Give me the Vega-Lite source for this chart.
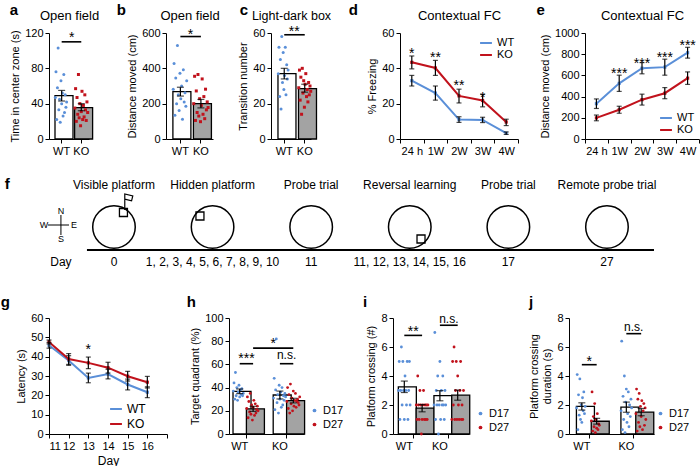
{
  "$schema": "https://vega.github.io/schema/vega-lite/v6.json",
  "background": "white",
  "padding": {"left": 0, "right": 2, "top": 3, "bottom": 2},
  "config": {
    "font": "Liberation Sans",
    "view": {"stroke": null},
    "axis": {"domainColor": "#000", "tickColor": "#000", "labelColor": "#000", "titleColor": "#000", "labelFontSize": 11, "titleFontSize": 11, "titleFontWeight": "normal", "grid": false, "tickSize": 4, "labelPadding": 2, "titlePadding": 4, "domainWidth": 1, "tickWidth": 1, "labelFont": "Liberation Sans", "titleFont": "Liberation Sans"},
    "title": {"fontSize": 15, "fontWeight": "bold", "anchor": "start", "frame": "bounds", "color": "#000", "baseline": "alphabetic", "font": "Liberation Sans"},
    "legend": {"labelFontSize": 12, "labelColor": "#000", "labelFont": "Liberation Sans"},
    "text": {"color": "#000", "font": "Liberation Sans"}
  },
  "resolve": {"scale": {"color": "independent", "shape": "independent", "x": "independent", "y": "independent", "xOffset": "independent"}, "legend": {"color": "independent", "shape": "independent"}},
  "datasets": {
    "a_bar": [{"g": "WT", "m": 49, "lo": 43, "hi": 55}, {"g": "KO", "m": 35.5, "lo": 32, "hi": 40}],
    "a_pts": [
      {"g": "WT", "v": 47}, {"g": "WT", "v": 76}, {"g": "WT", "v": 22}, {"g": "WT", "v": 58}, {"g": "WT", "v": 103}, {"g": "WT", "v": 33}, {"g": "WT", "v": 45}, {"g": "WT", "v": 19}, {"g": "WT", "v": 66}, {"g": "WT", "v": 40}, {"g": "WT", "v": 52}, {"g": "WT", "v": 26}, {"g": "WT", "v": 73}, {"g": "WT", "v": 30}, {"g": "WT", "v": 50}, {"g": "WT", "v": 36}, {"g": "WT", "v": 42},
      {"g": "KO", "v": 35}, {"g": "KO", "v": 57}, {"g": "KO", "v": 20}, {"g": "KO", "v": 47}, {"g": "KO", "v": 28}, {"g": "KO", "v": 73}, {"g": "KO", "v": 24}, {"g": "KO", "v": 40}, {"g": "KO", "v": 15}, {"g": "KO", "v": 31}, {"g": "KO", "v": 54}, {"g": "KO", "v": 22}, {"g": "KO", "v": 38}, {"g": "KO", "v": 25}, {"g": "KO", "v": 50}, {"g": "KO", "v": 33}, {"g": "KO", "v": 21}, {"g": "KO", "v": 42}, {"g": "KO", "v": 30}
    ],
    "b_bar": [{"g": "WT", "m": 268, "lo": 243, "hi": 293}, {"g": "KO", "m": 200, "lo": 176, "hi": 224}],
    "b_pts": [
      {"g": "WT", "v": 282}, {"g": "WT", "v": 427}, {"g": "WT", "v": 134}, {"g": "WT", "v": 345}, {"g": "WT", "v": 200}, {"g": "WT", "v": 529}, {"g": "WT", "v": 250}, {"g": "WT", "v": 162}, {"g": "WT", "v": 372}, {"g": "WT", "v": 228}, {"g": "WT", "v": 300}, {"g": "WT", "v": 112}, {"g": "WT", "v": 392}, {"g": "WT", "v": 210}, {"g": "WT", "v": 262}, {"g": "WT", "v": 185}, {"g": "WT", "v": 330},
      {"g": "KO", "v": 200}, {"g": "KO", "v": 355}, {"g": "KO", "v": 105}, {"g": "KO", "v": 272}, {"g": "KO", "v": 150}, {"g": "KO", "v": 365}, {"g": "KO", "v": 130}, {"g": "KO", "v": 228}, {"g": "KO", "v": 98}, {"g": "KO", "v": 190}, {"g": "KO", "v": 340}, {"g": "KO", "v": 140}, {"g": "KO", "v": 240}, {"g": "KO", "v": 115}, {"g": "KO", "v": 282}, {"g": "KO", "v": 165}, {"g": "KO", "v": 210}, {"g": "KO", "v": 178}
    ],
    "c_bar": [{"g": "WT", "m": 37, "lo": 34, "hi": 40}, {"g": "KO", "m": 28.5, "lo": 26.5, "hi": 31}],
    "c_pts": [
      {"g": "WT", "v": 37}, {"g": "WT", "v": 52}, {"g": "WT", "v": 24}, {"g": "WT", "v": 45}, {"g": "WT", "v": 17}, {"g": "WT", "v": 58}, {"g": "WT", "v": 32}, {"g": "WT", "v": 49}, {"g": "WT", "v": 28}, {"g": "WT", "v": 36}, {"g": "WT", "v": 52}, {"g": "WT", "v": 25}, {"g": "WT", "v": 42}, {"g": "WT", "v": 34}, {"g": "WT", "v": 39},
      {"g": "KO", "v": 29}, {"g": "KO", "v": 39}, {"g": "KO", "v": 22}, {"g": "KO", "v": 35}, {"g": "KO", "v": 14}, {"g": "KO", "v": 40}, {"g": "KO", "v": 26}, {"g": "KO", "v": 33}, {"g": "KO", "v": 18}, {"g": "KO", "v": 31}, {"g": "KO", "v": 37}, {"g": "KO", "v": 24}, {"g": "KO", "v": 28}, {"g": "KO", "v": 21}, {"g": "KO", "v": 32}, {"g": "KO", "v": 25}, {"g": "KO", "v": 30}, {"g": "KO", "v": 27}
    ],
    "d": [
      {"t": "24 h", "g": "WT", "m": 33, "lo": 30, "hi": 36}, {"t": "1W", "g": "WT", "m": 26, "lo": 22, "hi": 30}, {"t": "2W", "g": "WT", "m": 11, "lo": 9.4, "hi": 12.6}, {"t": "3W", "g": "WT", "m": 10.8, "lo": 9.3, "hi": 12.3}, {"t": "4W", "g": "WT", "m": 3.3, "lo": 2.6, "hi": 4},
      {"t": "24 h", "g": "KO", "m": 43.4, "lo": 39.7, "hi": 47}, {"t": "1W", "g": "KO", "m": 40.2, "lo": 36, "hi": 44.5}, {"t": "2W", "g": "KO", "m": 24.4, "lo": 20.4, "hi": 28.2}, {"t": "3W", "g": "KO", "m": 21.8, "lo": 18.2, "hi": 25.3}, {"t": "4W", "g": "KO", "m": 9.6, "lo": 7.6, "hi": 11.2}
    ],
    "e": [
      {"t": "24 h", "g": "WT", "m": 333, "lo": 288, "hi": 378}, {"t": "1W", "g": "WT", "m": 525, "lo": 449, "hi": 602}, {"t": "2W", "g": "WT", "m": 668, "lo": 615, "hi": 721}, {"t": "3W", "g": "WT", "m": 678, "lo": 602, "hi": 753}, {"t": "4W", "g": "WT", "m": 814, "lo": 763, "hi": 865},
      {"t": "24 h", "g": "KO", "m": 199, "lo": 172, "hi": 226}, {"t": "1W", "g": "KO", "m": 276, "lo": 243, "hi": 309}, {"t": "2W", "g": "KO", "m": 371, "lo": 320, "hi": 423}, {"t": "3W", "g": "KO", "m": 432, "lo": 380, "hi": 485}, {"t": "4W", "g": "KO", "m": 574, "lo": 515, "hi": 633}
    ],
    "gdat": [
      {"day": 11, "g": "WT", "m": 45.9, "lo": 44.4, "hi": 47.4}, {"day": 12, "g": "WT", "m": 38, "lo": 35.5, "hi": 40.5}, {"day": 13, "g": "WT", "m": 29, "lo": 26.5, "hi": 31.5}, {"day": 14, "g": "WT", "m": 31, "lo": 28.5, "hi": 33.5}, {"day": 15, "g": "WT", "m": 25.6, "lo": 22.8, "hi": 28.4}, {"day": 16, "g": "WT", "m": 21.6, "lo": 18.8, "hi": 24.4},
      {"day": 11, "g": "KO", "m": 47.6, "lo": 46.6, "hi": 48.6}, {"day": 12, "g": "KO", "m": 38.8, "lo": 36, "hi": 41.6}, {"day": 13, "g": "KO", "m": 36.8, "lo": 33.8, "hi": 39.8}, {"day": 14, "g": "KO", "m": 34.3, "lo": 31.5, "hi": 37.1}, {"day": 15, "g": "KO", "m": 29.9, "lo": 27.4, "hi": 32.4}, {"day": 16, "g": "KO", "m": 26.8, "lo": 23.8, "hi": 29.8}
    ],
    "h_bar": [
      {"c": "WT D17", "d": "D17", "m": 36.8, "lo": 34.8, "hi": 38.8}, {"c": "WT D27", "d": "D27", "m": 21.7, "lo": 19.5, "hi": 23.9}, {"c": "KO D17", "d": "D17", "m": 33.6, "lo": 30.2, "hi": 37}, {"c": "KO D27", "d": "D27", "m": 28.8, "lo": 26.8, "hi": 30.8}
    ],
    "h_pts": [
      {"c": "WT D17", "d": "D17", "v": 37}, {"c": "WT D17", "d": "D17", "v": 44}, {"c": "WT D17", "d": "D17", "v": 30}, {"c": "WT D17", "d": "D17", "v": 53}, {"c": "WT D17", "d": "D17", "v": 33}, {"c": "WT D17", "d": "D17", "v": 40}, {"c": "WT D17", "d": "D17", "v": 29}, {"c": "WT D17", "d": "D17", "v": 36}, {"c": "WT D17", "d": "D17", "v": 42}, {"c": "WT D17", "d": "D17", "v": 32}, {"c": "WT D17", "d": "D17", "v": 38}, {"c": "WT D17", "d": "D17", "v": 34}, {"c": "WT D17", "d": "D17", "v": 39}, {"c": "WT D17", "d": "D17", "v": 33}, {"c": "WT D17", "d": "D17", "v": 35},
      {"c": "WT D27", "d": "D27", "v": 22}, {"c": "WT D27", "d": "D27", "v": 32}, {"c": "WT D27", "d": "D27", "v": 14}, {"c": "WT D27", "d": "D27", "v": 28}, {"c": "WT D27", "d": "D27", "v": 19}, {"c": "WT D27", "d": "D27", "v": 35}, {"c": "WT D27", "d": "D27", "v": 17}, {"c": "WT D27", "d": "D27", "v": 25}, {"c": "WT D27", "d": "D27", "v": 12}, {"c": "WT D27", "d": "D27", "v": 23}, {"c": "WT D27", "d": "D27", "v": 29}, {"c": "WT D27", "d": "D27", "v": 16}, {"c": "WT D27", "d": "D27", "v": 26}, {"c": "WT D27", "d": "D27", "v": 18}, {"c": "WT D27", "d": "D27", "v": 21}, {"c": "WT D27", "d": "D27", "v": 24}, {"c": "WT D27", "d": "D27", "v": 20},
      {"c": "KO D17", "d": "D17", "v": 31}, {"c": "KO D17", "d": "D17", "v": 48}, {"c": "KO D17", "d": "D17", "v": 21}, {"c": "KO D17", "d": "D17", "v": 38}, {"c": "KO D17", "d": "D17", "v": 82}, {"c": "KO D17", "d": "D17", "v": 27}, {"c": "KO D17", "d": "D17", "v": 34}, {"c": "KO D17", "d": "D17", "v": 18}, {"c": "KO D17", "d": "D17", "v": 42}, {"c": "KO D17", "d": "D17", "v": 30}, {"c": "KO D17", "d": "D17", "v": 36}, {"c": "KO D17", "d": "D17", "v": 23}, {"c": "KO D17", "d": "D17", "v": 40}, {"c": "KO D17", "d": "D17", "v": 25}, {"c": "KO D17", "d": "D17", "v": 33}, {"c": "KO D17", "d": "D17", "v": 29}, {"c": "KO D17", "d": "D17", "v": 35}, {"c": "KO D17", "d": "D17", "v": 32},
      {"c": "KO D27", "d": "D27", "v": 28}, {"c": "KO D27", "d": "D27", "v": 40}, {"c": "KO D27", "d": "D27", "v": 22}, {"c": "KO D27", "d": "D27", "v": 34}, {"c": "KO D27", "d": "D27", "v": 18}, {"c": "KO D27", "d": "D27", "v": 43}, {"c": "KO D27", "d": "D27", "v": 26}, {"c": "KO D27", "d": "D27", "v": 31}, {"c": "KO D27", "d": "D27", "v": 20}, {"c": "KO D27", "d": "D27", "v": 37}, {"c": "KO D27", "d": "D27", "v": 24}, {"c": "KO D27", "d": "D27", "v": 29}, {"c": "KO D27", "d": "D27", "v": 35}, {"c": "KO D27", "d": "D27", "v": 23}, {"c": "KO D27", "d": "D27", "v": 28}, {"c": "KO D27", "d": "D27", "v": 30}, {"c": "KO D27", "d": "D27", "v": 27}, {"c": "KO D27", "d": "D27", "v": 25}, {"c": "KO D27", "d": "D27", "v": 32}
    ],
    "i_bar": [
      {"c": "WT D17", "d": "D17", "m": 3.25, "lo": 2.86, "hi": 3.65}, {"c": "WT D27", "d": "D27", "m": 1.78, "lo": 1.53, "hi": 2.03}, {"c": "KO D17", "d": "D17", "m": 2.64, "lo": 2.29, "hi": 2.99}, {"c": "KO D27", "d": "D27", "m": 2.68, "lo": 2.33, "hi": 3.03}
    ],
    "i_pts": [
      {"c": "WT D17", "d": "D17", "v": 3}, {"c": "WT D17", "d": "D17", "v": 5}, {"c": "WT D17", "d": "D17", "v": 1}, {"c": "WT D17", "d": "D17", "v": 3}, {"c": "WT D17", "d": "D17", "v": 6}, {"c": "WT D17", "d": "D17", "v": 2}, {"c": "WT D17", "d": "D17", "v": 5}, {"c": "WT D17", "d": "D17", "v": 3}, {"c": "WT D17", "d": "D17", "v": 1}, {"c": "WT D17", "d": "D17", "v": 4}, {"c": "WT D17", "d": "D17", "v": 3}, {"c": "WT D17", "d": "D17", "v": 2}, {"c": "WT D17", "d": "D17", "v": 5}, {"c": "WT D17", "d": "D17", "v": 1}, {"c": "WT D17", "d": "D17", "v": 3}, {"c": "WT D17", "d": "D17", "v": 5}, {"c": "WT D17", "d": "D17", "v": 2},
      {"c": "WT D27", "d": "D27", "v": 2}, {"c": "WT D27", "d": "D27", "v": 1}, {"c": "WT D27", "d": "D27", "v": 4}, {"c": "WT D27", "d": "D27", "v": 2}, {"c": "WT D27", "d": "D27", "v": 1}, {"c": "WT D27", "d": "D27", "v": 3}, {"c": "WT D27", "d": "D27", "v": 2}, {"c": "WT D27", "d": "D27", "v": 0}, {"c": "WT D27", "d": "D27", "v": 1}, {"c": "WT D27", "d": "D27", "v": 2}, {"c": "WT D27", "d": "D27", "v": 3}, {"c": "WT D27", "d": "D27", "v": 1}, {"c": "WT D27", "d": "D27", "v": 2}, {"c": "WT D27", "d": "D27", "v": 1}, {"c": "WT D27", "d": "D27", "v": 2}, {"c": "WT D27", "d": "D27", "v": 1}, {"c": "WT D27", "d": "D27", "v": 2},
      {"c": "KO D17", "d": "D17", "v": 2}, {"c": "KO D17", "d": "D17", "v": 7}, {"c": "KO D17", "d": "D17", "v": 1}, {"c": "KO D17", "d": "D17", "v": 3}, {"c": "KO D17", "d": "D17", "v": 2}, {"c": "KO D17", "d": "D17", "v": 4}, {"c": "KO D17", "d": "D17", "v": 0}, {"c": "KO D17", "d": "D17", "v": 2}, {"c": "KO D17", "d": "D17", "v": 5}, {"c": "KO D17", "d": "D17", "v": 1}, {"c": "KO D17", "d": "D17", "v": 3}, {"c": "KO D17", "d": "D17", "v": 2}, {"c": "KO D17", "d": "D17", "v": 4}, {"c": "KO D17", "d": "D17", "v": 2}, {"c": "KO D17", "d": "D17", "v": 1}, {"c": "KO D17", "d": "D17", "v": 3}, {"c": "KO D17", "d": "D17", "v": 2},
      {"c": "KO D27", "d": "D27", "v": 1}, {"c": "KO D27", "d": "D27", "v": 5}, {"c": "KO D27", "d": "D27", "v": 2}, {"c": "KO D27", "d": "D27", "v": 6}, {"c": "KO D27", "d": "D27", "v": 1}, {"c": "KO D27", "d": "D27", "v": 3}, {"c": "KO D27", "d": "D27", "v": 5}, {"c": "KO D27", "d": "D27", "v": 1}, {"c": "KO D27", "d": "D27", "v": 4}, {"c": "KO D27", "d": "D27", "v": 2}, {"c": "KO D27", "d": "D27", "v": 1}, {"c": "KO D27", "d": "D27", "v": 3}, {"c": "KO D27", "d": "D27", "v": 5}, {"c": "KO D27", "d": "D27", "v": 1}, {"c": "KO D27", "d": "D27", "v": 2}, {"c": "KO D27", "d": "D27", "v": 1}, {"c": "KO D27", "d": "D27", "v": 3}
    ],
    "j_bar": [
      {"c": "WT D17", "d": "D17", "m": 1.9, "lo": 1.65, "hi": 2.15}, {"c": "WT D27", "d": "D27", "m": 0.88, "lo": 0.68, "hi": 1.08}, {"c": "KO D17", "d": "D17", "m": 1.85, "lo": 1.5, "hi": 2.2}, {"c": "KO D27", "d": "D27", "m": 1.51, "lo": 1.26, "hi": 1.76}
    ],
    "j_pts": [
      {"c": "WT D17", "d": "D17", "v": 1.8}, {"c": "WT D17", "d": "D17", "v": 4.1}, {"c": "WT D17", "d": "D17", "v": 0.3}, {"c": "WT D17", "d": "D17", "v": 2.7}, {"c": "WT D17", "d": "D17", "v": 1.3}, {"c": "WT D17", "d": "D17", "v": 3.8}, {"c": "WT D17", "d": "D17", "v": 1.0}, {"c": "WT D17", "d": "D17", "v": 2.0}, {"c": "WT D17", "d": "D17", "v": 0.8}, {"c": "WT D17", "d": "D17", "v": 2.5}, {"c": "WT D17", "d": "D17", "v": 1.6}, {"c": "WT D17", "d": "D17", "v": 2.9}, {"c": "WT D17", "d": "D17", "v": 1.4}, {"c": "WT D17", "d": "D17", "v": 1.9},
      {"c": "WT D27", "d": "D27", "v": 0.9}, {"c": "WT D27", "d": "D27", "v": 2.9}, {"c": "WT D27", "d": "D27", "v": 0.2}, {"c": "WT D27", "d": "D27", "v": 1.2}, {"c": "WT D27", "d": "D27", "v": 0.5}, {"c": "WT D27", "d": "D27", "v": 2.1}, {"c": "WT D27", "d": "D27", "v": 0.1}, {"c": "WT D27", "d": "D27", "v": 1.0}, {"c": "WT D27", "d": "D27", "v": 0.4}, {"c": "WT D27", "d": "D27", "v": 1.4}, {"c": "WT D27", "d": "D27", "v": 0.3}, {"c": "WT D27", "d": "D27", "v": 0.7}, {"c": "WT D27", "d": "D27", "v": 0.6},
      {"c": "KO D17", "d": "D17", "v": 1.6}, {"c": "KO D17", "d": "D17", "v": 6.4}, {"c": "KO D17", "d": "D17", "v": 0.3}, {"c": "KO D17", "d": "D17", "v": 2.6}, {"c": "KO D17", "d": "D17", "v": 1.0}, {"c": "KO D17", "d": "D17", "v": 4.0}, {"c": "KO D17", "d": "D17", "v": 0.1}, {"c": "KO D17", "d": "D17", "v": 2.2}, {"c": "KO D17", "d": "D17", "v": 3.1}, {"c": "KO D17", "d": "D17", "v": 0.8}, {"c": "KO D17", "d": "D17", "v": 1.4}, {"c": "KO D17", "d": "D17", "v": 2.9}, {"c": "KO D17", "d": "D17", "v": 0.5}, {"c": "KO D17", "d": "D17", "v": 2.0}, {"c": "KO D17", "d": "D17", "v": 1.2}, {"c": "KO D17", "d": "D17", "v": 2.4}, {"c": "KO D17", "d": "D17", "v": 1.8},
      {"c": "KO D27", "d": "D27", "v": 1.4}, {"c": "KO D27", "d": "D27", "v": 3.1}, {"c": "KO D27", "d": "D27", "v": 0.2}, {"c": "KO D27", "d": "D27", "v": 2.4}, {"c": "KO D27", "d": "D27", "v": 0.8}, {"c": "KO D27", "d": "D27", "v": 2.8}, {"c": "KO D27", "d": "D27", "v": 0.5}, {"c": "KO D27", "d": "D27", "v": 1.9}, {"c": "KO D27", "d": "D27", "v": 1.2}, {"c": "KO D27", "d": "D27", "v": 2.3}, {"c": "KO D27", "d": "D27", "v": 0.3}, {"c": "KO D27", "d": "D27", "v": 1.6}, {"c": "KO D27", "d": "D27", "v": 2.1}, {"c": "KO D27", "d": "D27", "v": 0.6}, {"c": "KO D27", "d": "D27", "v": 1.8}, {"c": "KO D27", "d": "D27", "v": 1.0}
    ],
    "f_pool": [{"x": 0, "y": 4.1}, {"x": 1, "y": 4.1}, {"x": 2, "y": 4.1}, {"x": 3, "y": 4.1}, {"x": 4, "y": 4.1}, {"x": 5, "y": 4.1}],
    "f_plat": [{"x": 0.096, "y": 5.55}, {"x": 0.872, "y": 5.2}, {"x": 3.114, "y": 2.9}],
    "f_flag": [{"x": 0.142, "y": 6.6}],
    "f_axis": [{"x1": -0.274, "x2": 5.477, "y1": 1.8, "y2": 1.8}],
    "f_comp": [{"x1": -0.669, "x2": -0.456, "y1": 4.3, "y2": 4.3}, {"x1": -0.538, "x2": -0.538, "y1": 3.3, "y2": 5.3}],
    "f_dir": [{"x": -0.538, "y": 5.7, "s": "N"}, {"x": -0.538, "y": 2.95, "s": "S"}, {"x": -0.71, "y": 4.3, "s": "W"}, {"x": -0.406, "y": 4.3, "s": "E"}],
    "f_top": [{"x": 0, "s": "Visible platform"}, {"x": 1, "s": "Hidden platform"}, {"x": 2, "s": "Probe trial"}, {"x": 3, "s": "Reversal learning"}, {"x": 4, "s": "Probe trial"}, {"x": 5, "s": "Remote probe trial"}],
    "f_day": [{"x": -0.538, "s": "Day"}, {"x": 0, "s": "0"}, {"x": 1, "s": "1, 2, 3, 4, 5, 6, 7, 8, 9, 10"}, {"x": 2, "s": "11"}, {"x": 3, "s": "11, 12, 13, 14, 15, 16"}, {"x": 4, "s": "17"}, {"x": 5, "s": "27"}]
  },
  "spacing": 21,
  "vconcat": [
    {
      "spacing": 17,
      "resolve": {"scale": {"color": "independent", "shape": "independent", "x": "independent", "y": "independent", "xOffset": "independent"}, "legend": {"color": "independent", "shape": "independent"}},
      "hconcat": [
        {
          "width": 40, "height": 106,
          "title": {"text": "a", "offset": -9},
          "layer": [
            {"data": {"name": "a_bar"}, "mark": {"type": "bar", "stroke": "#000", "strokeWidth": 1.3},
             "encoding": {
               "x": {"field": "g", "type": "nominal", "scale": {"domain": ["WT", "KO"], "paddingInner": 0.32, "paddingOuter": 0.18, "align": 0.85}, "axis": {"title": null, "labelAngle": 0}},
               "y": {"field": "m", "type": "quantitative", "scale": {"domain": [0, 120]}, "axis": {"title": "Time in center zone (s)", "values": [0, 40, 80, 120]}},
               "fill": {"condition": {"test": "datum.g === 'KO'", "value": "#a3a3a3"}, "value": "#ffffff"}
             }},
            {"data": {"name": "a_pts"}, "transform": [{"window": [{"op": "row_number", "as": "k"}], "groupby": ["g"]}],
             "mark": {"type": "point", "filled": true, "size": 9, "opacity": 1},
             "encoding": {
               "x": {"field": "g", "type": "nominal", "axis": null},
               "xOffset": {"field": "k", "type": "ordinal", "scale": {"paddingOuter": 0.4}},
               "y": {"field": "v", "type": "quantitative", "axis": null},
               "color": {"field": "g", "type": "nominal", "scale": {"domain": ["WT", "KO"], "range": ["#5a8fd8", "#c1121c"]}, "legend": null},
               "shape": {"field": "g", "type": "nominal", "scale": {"domain": ["WT", "KO"], "range": ["circle", "square"]}, "legend": null}
             }},
            {"data": {"name": "a_bar"}, "mark": {"type": "errorbar", "color": "#000", "thickness": 1.2, "ticks": {"size": 7, "thickness": 1.2}},
             "encoding": {"x": {"field": "g", "type": "nominal", "axis": null}, "y": {"field": "lo", "type": "quantitative", "axis": null}, "y2": {"field": "hi"}}},
            {"data": {"values": [{"a": "WT", "b": "KO", "y": 110}]}, "mark": {"type": "rule", "strokeWidth": 1.6, "color": "#000"},
             "encoding": {"x": {"field": "a", "type": "nominal", "axis": null}, "x2": {"field": "b"}, "y": {"field": "y", "type": "quantitative", "axis": null}}},
            {"data": {"values": [{"g": "WT", "y": 119, "s": "*"}]}, "mark": {"type": "text", "fontSize": 14, "dx": 10, "dy": 8, "baseline": "alphabetic"},
             "encoding": {"x": {"field": "g", "type": "nominal", "axis": {"orient": "top", "title": "Open field", "labels": false, "ticks": false, "domain": false, "titleFontSize": 13, "titlePadding": 11}}, "y": {"field": "y", "type": "quantitative", "axis": null}, "text": {"field": "s"}}}
          ],
          "resolve": {"axis": {"x": "independent", "y": "independent"}}
        },
        {
          "width": 47, "height": 106,
          "title": {"text": "b", "offset": -9, "dx": -10},
          "layer": [
            {"data": {"name": "b_bar"}, "mark": {"type": "bar", "stroke": "#000", "strokeWidth": 1.3},
             "encoding": {
               "x": {"field": "g", "type": "nominal", "scale": {"domain": ["WT", "KO"], "paddingInner": 0.27, "paddingOuter": 0.28, "align": 0.6}, "axis": {"title": null, "labelAngle": 0}},
               "y": {"field": "m", "type": "quantitative", "scale": {"domain": [0, 600]}, "axis": {"title": "Distance moved (cm)", "values": [0, 200, 400, 600]}},
               "fill": {"condition": {"test": "datum.g === 'KO'", "value": "#a3a3a3"}, "value": "#ffffff"}
             }},
            {"data": {"name": "b_pts"}, "transform": [{"window": [{"op": "row_number", "as": "k"}], "groupby": ["g"]}],
             "mark": {"type": "point", "filled": true, "size": 9, "opacity": 1},
             "encoding": {
               "x": {"field": "g", "type": "nominal", "axis": null},
               "xOffset": {"field": "k", "type": "ordinal", "scale": {"paddingOuter": 0.4}},
               "y": {"field": "v", "type": "quantitative", "axis": null},
               "color": {"field": "g", "type": "nominal", "scale": {"domain": ["WT", "KO"], "range": ["#5a8fd8", "#c1121c"]}, "legend": null},
               "shape": {"field": "g", "type": "nominal", "scale": {"domain": ["WT", "KO"], "range": ["circle", "square"]}, "legend": null}
             }},
            {"data": {"name": "b_bar"}, "mark": {"type": "errorbar", "color": "#000", "thickness": 1.2, "ticks": {"size": 7, "thickness": 1.2}},
             "encoding": {"x": {"field": "g", "type": "nominal", "axis": null}, "y": {"field": "lo", "type": "quantitative", "axis": null}, "y2": {"field": "hi"}}},
            {"data": {"values": [{"a": "WT", "b": "KO", "y": 580}]}, "mark": {"type": "rule", "strokeWidth": 1.6, "color": "#000"},
             "encoding": {"x": {"field": "a", "type": "nominal", "axis": null}, "x2": {"field": "b"}, "y": {"field": "y", "type": "quantitative", "axis": null}}},
            {"data": {"values": [{"g": "WT", "y": 612, "s": "*"}]}, "mark": {"type": "text", "fontSize": 14, "dx": 10, "dy": 8, "baseline": "alphabetic"},
             "encoding": {"x": {"field": "g", "type": "nominal", "axis": {"orient": "top", "title": "Open field", "labels": false, "ticks": false, "domain": false, "titleFontSize": 13, "titlePadding": 11}}, "y": {"field": "y", "type": "quantitative", "axis": null}, "text": {"field": "s"}}}
          ],
          "resolve": {"axis": {"x": "independent", "y": "independent"}}
        },
        {
          "width": 40, "height": 106,
          "title": {"text": "c", "offset": -9, "dx": 2},
          "layer": [
            {"data": {"name": "c_bar"}, "mark": {"type": "bar", "stroke": "#000", "strokeWidth": 1.3},
             "encoding": {
               "x": {"field": "g", "type": "nominal", "scale": {"domain": ["WT", "KO"], "paddingInner": 0.39, "paddingOuter": 0.17, "align": 1}, "axis": {"title": null, "labelAngle": 0}},
               "y": {"field": "m", "type": "quantitative", "scale": {"domain": [0, 60]}, "axis": {"title": "Transition number", "values": [0, 20, 40, 60]}},
               "fill": {"condition": {"test": "datum.g === 'KO'", "value": "#a3a3a3"}, "value": "#ffffff"}
             }},
            {"data": {"name": "c_pts"}, "transform": [{"window": [{"op": "row_number", "as": "k"}], "groupby": ["g"]}],
             "mark": {"type": "point", "filled": true, "size": 9, "opacity": 1},
             "encoding": {
               "x": {"field": "g", "type": "nominal", "axis": null},
               "xOffset": {"field": "k", "type": "ordinal", "scale": {"paddingOuter": 0.4}},
               "y": {"field": "v", "type": "quantitative", "axis": null},
               "color": {"field": "g", "type": "nominal", "scale": {"domain": ["WT", "KO"], "range": ["#5a8fd8", "#c1121c"]}, "legend": null},
               "shape": {"field": "g", "type": "nominal", "scale": {"domain": ["WT", "KO"], "range": ["circle", "square"]}, "legend": null}
             }},
            {"data": {"name": "c_bar"}, "mark": {"type": "errorbar", "color": "#000", "thickness": 1.2, "ticks": {"size": 7, "thickness": 1.2}},
             "encoding": {"x": {"field": "g", "type": "nominal", "axis": null}, "y": {"field": "lo", "type": "quantitative", "axis": null}, "y2": {"field": "hi"}}},
            {"data": {"values": [{"a": "WT", "b": "KO", "y": 59}]}, "mark": {"type": "rule", "strokeWidth": 1.6, "color": "#000"},
             "encoding": {"x": {"field": "a", "type": "nominal", "axis": null}, "x2": {"field": "b"}, "y": {"field": "y", "type": "quantitative", "axis": null}}},
            {"data": {"values": [{"g": "WT", "y": 63, "s": "**"}]}, "mark": {"type": "text", "fontSize": 14, "dx": 10, "dy": 8, "baseline": "alphabetic"},
             "encoding": {"x": {"field": "g", "type": "nominal", "axis": {"orient": "top", "title": "Light-dark box", "labels": false, "ticks": false, "domain": false, "titleFontSize": 12.5, "titlePadding": 11}}, "y": {"field": "y", "type": "quantitative", "axis": null}, "text": {"field": "s"}}}
          ],
          "resolve": {"axis": {"x": "independent", "y": "independent"}}
        },
        {
          "width": 118, "height": 106,
          "title": {"text": "d", "offset": -9, "dx": -18},
          "layer": [
            {"data": {"name": "d"}, "mark": {"type": "line", "strokeWidth": 2, "point": {"filled": true, "size": 10, "shape": "square"}},
             "encoding": {
               "x": {"field": "t", "type": "ordinal", "scale": {"type": "band", "domain": ["24 h", "1W", "2W", "3W", "4W"], "paddingInner": 0, "paddingOuter": 0}, "axis": {"title": null, "labelAngle": 0, "tickBand": "extent"}},
               "y": {"field": "m", "type": "quantitative", "scale": {"domain": [0, 60]}, "axis": {"title": "% Freezing", "values": [0, 20, 40, 60]}},
               "color": {"field": "g", "type": "nominal", "scale": {"domain": ["WT", "KO"], "range": ["#5a8fd8", "#c1121c"]}, "legend": {"title": null, "orient": "top-right", "offset": 3, "symbolType": "stroke", "symbolStrokeWidth": 2, "symbolSize": 140, "labelFontSize": 11, "rowPadding": -2, "padding": 0}},
               "order": {"value": null}
             }},
            {"data": {"name": "d"}, "mark": {"type": "errorbar", "color": "#000", "thickness": 1.2, "ticks": {"size": 5, "thickness": 1.2}},
             "encoding": {"x": {"field": "t", "type": "ordinal", "axis": null}, "y": {"field": "lo", "type": "quantitative", "axis": null}, "y2": {"field": "hi"}}},
            {"data": {"values": [{"t": "24 h", "y": 50.5, "s": "*"}, {"t": "1W", "y": 48, "s": "**"}, {"t": "2W", "y": 32, "s": "**"}, {"t": "3W", "y": 25.5, "s": "*"}]},
             "mark": {"type": "text", "fontSize": 14, "dy": 8, "baseline": "alphabetic"},
             "encoding": {"x": {"field": "t", "type": "ordinal", "axis": {"orient": "top", "title": "Contextual FC", "labels": false, "ticks": false, "domain": false, "titleFontSize": 13, "titlePadding": 11}}, "y": {"field": "y", "type": "quantitative", "axis": null}, "text": {"field": "s"}}}
          ],
          "resolve": {"axis": {"x": "independent", "y": "independent"}}
        },
        {
          "width": 114, "height": 106,
          "title": {"text": "e", "offset": -9, "dx": -3},
          "layer": [
            {"data": {"name": "e"}, "mark": {"type": "line", "strokeWidth": 2, "point": {"filled": true, "size": 10, "shape": "square"}},
             "encoding": {
               "x": {"field": "t", "type": "ordinal", "scale": {"type": "band", "domain": ["24 h", "1W", "2W", "3W", "4W"], "paddingInner": 0, "paddingOuter": 0}, "axis": {"title": null, "labelAngle": 0, "tickBand": "extent"}},
               "y": {"field": "m", "type": "quantitative", "scale": {"domain": [0, 1000]}, "axis": {"title": "Distance moved (cm)", "values": [0, 200, 400, 600, 800, 1000], "format": "d"}},
               "color": {"field": "g", "type": "nominal", "scale": {"domain": ["WT", "KO"], "range": ["#5a8fd8", "#c1121c"]}, "legend": {"title": null, "orient": "bottom-right", "offset": 4, "symbolType": "stroke", "symbolStrokeWidth": 2, "symbolSize": 140, "labelFontSize": 11, "rowPadding": -2, "padding": 0}},
               "order": {"value": null}
             }},
            {"data": {"name": "e"}, "mark": {"type": "errorbar", "color": "#000", "thickness": 1.2, "ticks": {"size": 5, "thickness": 1.2}},
             "encoding": {"x": {"field": "t", "type": "ordinal", "axis": null}, "y": {"field": "lo", "type": "quantitative", "axis": null}, "y2": {"field": "hi"}}},
            {"data": {"values": [{"t": "1W", "y": 647, "s": "***"}, {"t": "2W", "y": 747, "s": "***"}, {"t": "3W", "y": 801, "s": "***"}, {"t": "4W", "y": 913, "s": "***"}]},
             "mark": {"type": "text", "fontSize": 14, "dy": 8, "baseline": "alphabetic"},
             "encoding": {"x": {"field": "t", "type": "ordinal", "axis": {"orient": "top", "title": "Contextual FC", "labels": false, "ticks": false, "domain": false, "titleFontSize": 13, "titlePadding": 11}}, "y": {"field": "y", "type": "quantitative", "axis": null}, "text": {"field": "s"}}}
          ],
          "resolve": {"axis": {"x": "independent", "y": "independent"}}
        }
      ]
    },
    {
      "width": 612, "height": 96,
      "title": {"text": "f", "offset": -14, "dx": -35},
      "layer": [
        {"data": {"name": "f_pool"}, "mark": {"type": "point", "shape": "circle", "size": 1810, "filled": false, "stroke": "#000", "strokeWidth": 1.5, "opacity": 1},
         "encoding": {"x": {"field": "x", "type": "quantitative", "scale": {"domain": [-0.659, 5.548], "nice": false, "zero": false}, "axis": null}, "y": {"field": "y", "type": "quantitative", "scale": {"domain": [-0.6, 9], "nice": false, "zero": false}, "axis": null}}},
        {"data": {"name": "f_plat"}, "mark": {"type": "point", "shape": "square", "size": 64, "filled": false, "stroke": "#000", "strokeWidth": 1.3, "opacity": 1},
         "encoding": {"x": {"field": "x", "type": "quantitative"}, "y": {"field": "y", "type": "quantitative"}}},
        {"data": {"name": "f_flag"}, "mark": {"type": "point", "shape": "M-0.4,1L-0.4,-1L0.6,-0.75L0.45,-0.15L-0.4,-0.35", "size": 256, "filled": false, "stroke": "#000", "strokeWidth": 1.2, "opacity": 1},
         "encoding": {"x": {"field": "x", "type": "quantitative"}, "y": {"field": "y", "type": "quantitative"}}},
        {"data": {"name": "f_axis"}, "mark": {"type": "rule", "strokeWidth": 2.2, "color": "#000"},
         "encoding": {"x": {"field": "x1", "type": "quantitative"}, "x2": {"field": "x2"}, "y": {"field": "y1", "type": "quantitative"}, "y2": {"field": "y2"}}},
        {"data": {"name": "f_comp"}, "mark": {"type": "rule", "strokeWidth": 1, "color": "#000"},
         "encoding": {"x": {"field": "x1", "type": "quantitative"}, "x2": {"field": "x2"}, "y": {"field": "y1", "type": "quantitative"}, "y2": {"field": "y2"}}},
        {"data": {"name": "f_dir"}, "mark": {"type": "text", "fontSize": 9, "baseline": "middle"},
         "encoding": {"x": {"field": "x", "type": "quantitative"}, "y": {"field": "y", "type": "quantitative"}, "text": {"field": "s"}}},
        {"data": {"name": "f_top"}, "mark": {"type": "text", "fontSize": 12, "baseline": "alphabetic"},
         "encoding": {"x": {"field": "x", "type": "quantitative"}, "y": {"datum": 7.9, "type": "quantitative"}, "text": {"field": "s"}}},
        {"data": {"name": "f_day"}, "mark": {"type": "text", "fontSize": 12, "baseline": "alphabetic"},
         "encoding": {"x": {"field": "x", "type": "quantitative"}, "y": {"datum": 0.25, "type": "quantitative"}, "text": {"field": "s"}}}
      ]
    },
    {
      "spacing": 18,
      "resolve": {"scale": {"color": "independent", "shape": "independent", "x": "independent", "y": "independent", "xOffset": "independent"}, "legend": {"color": "independent", "shape": "independent"}},
      "hconcat": [
        {
          "width": 118, "height": 116,
          "title": {"text": "g", "offset": 2, "dx": -15},
          "layer": [
            {"data": {"name": "gdat"}, "mark": {"type": "line", "strokeWidth": 2, "point": {"filled": true, "size": 10, "shape": "square"}},
             "encoding": {
               "x": {"field": "day", "type": "quantitative", "scale": {"domain": [11, 17], "nice": false, "zero": false}, "axis": {"title": "Day", "titleFontSize": 12, "values": [11, 12, 13, 14, 15, 16, 17], "labelExpr": "datum.value == 17 ? '' : datum.label"}},
               "y": {"field": "m", "type": "quantitative", "scale": {"domain": [0, 60]}, "axis": {"title": "Latency (s)", "values": [0, 10, 20, 30, 40, 50, 60]}},
               "color": {"field": "g", "type": "nominal", "scale": {"domain": ["WT", "KO"], "range": ["#5a8fd8", "#c1121c"]}, "legend": {"title": null, "orient": "none", "legendX": 60, "legendY": 84, "symbolType": "stroke", "symbolStrokeWidth": 2, "symbolSize": 140, "labelFontSize": 12, "rowPadding": 2, "padding": 0}}
             }},
            {"data": {"name": "gdat"}, "mark": {"type": "errorbar", "color": "#000", "thickness": 1.2, "ticks": {"size": 5, "thickness": 1.2}},
             "encoding": {"x": {"field": "day", "type": "quantitative", "axis": null}, "y": {"field": "lo", "type": "quantitative", "axis": null}, "y2": {"field": "hi"}}},
            {"data": {"values": [{"day": 13, "y": 45.6, "s": "*"}]}, "mark": {"type": "text", "fontSize": 14, "dy": 8, "baseline": "alphabetic"},
             "encoding": {"x": {"field": "day", "type": "quantitative", "axis": null}, "y": {"field": "y", "type": "quantitative", "axis": null}, "text": {"field": "s"}}}
          ],
          "resolve": {"axis": {"x": "independent", "y": "independent"}}
        },
        {
          "width": 75, "height": 116,
          "title": {"text": "h", "offset": 2, "dx": -3},
          "layer": [
            {"data": {"name": "h_bar"}, "mark": {"type": "bar", "stroke": "#000", "strokeWidth": 1.3},
             "encoding": {
               "x": {"field": "c", "type": "nominal", "scale": {"domain": ["WT D17", "WT D27", " ", "KO D17", "KO D27"], "paddingInner": 0, "paddingOuter": 0.3}, "axis": {"title": null, "labelAngle": 0, "values": ["WT D17", "KO D17"], "bandPosition": 1, "labelExpr": "substring(datum.label, 0, 2)"}},
               "y": {"field": "m", "type": "quantitative", "scale": {"domain": [0, 100]}, "axis": {"title": "Target quadrant (%)", "values": [0, 20, 40, 60, 80, 100]}},
               "fill": {"condition": {"test": "datum.d === 'D27'", "value": "#a3a3a3"}, "value": "#ffffff"}
             }},
            {"data": {"name": "h_pts"}, "transform": [{"window": [{"op": "row_number", "as": "k"}], "groupby": ["c"]}],
             "mark": {"type": "point", "filled": true, "size": 8, "opacity": 1},
             "encoding": {
               "x": {"field": "c", "type": "nominal", "axis": null},
               "xOffset": {"field": "k", "type": "ordinal", "scale": {"paddingOuter": 0.4}},
               "y": {"field": "v", "type": "quantitative", "axis": null},
               "color": {"field": "d", "type": "nominal", "scale": {"domain": ["D17", "D27"], "range": ["#5a8fd8", "#c1121c"]}, "legend": {"title": null, "orient": "none", "legendX": 80, "legendY": 87, "symbolType": "circle", "symbolSize": 14, "labelFontSize": 11, "labelOffset": 3, "rowPadding": 2, "padding": 0}}
             }},
            {"data": {"name": "h_bar"}, "mark": {"type": "errorbar", "color": "#000", "thickness": 1.2, "ticks": {"size": 7, "thickness": 1.2}},
             "encoding": {"x": {"field": "c", "type": "nominal", "axis": null}, "y": {"field": "lo", "type": "quantitative", "axis": null}, "y2": {"field": "hi"}}},
            {"data": {"values": [{"a": "WT D17", "b": "WT D27", "y": 60.6}, {"a": "WT D27", "b": "KO D27", "y": 74}, {"a": "KO D17", "b": "KO D27", "y": 60.6}]}, "mark": {"type": "rule", "strokeWidth": 1.6, "color": "#000"},
             "encoding": {"x": {"field": "a", "type": "nominal", "axis": null}, "x2": {"field": "b"}, "y": {"field": "y", "type": "quantitative", "axis": null}}},
            {"data": {"values": [{"c": "WT D17", "y": 68, "s": "***"}, {"c": " ", "y": 81, "s": "*"}]}, "mark": {"type": "text", "fontSize": 14, "dy": 8, "baseline": "alphabetic"},
             "encoding": {"x": {"field": "c", "type": "nominal", "bandPosition": 1, "axis": null}, "y": {"field": "y", "type": "quantitative", "axis": null}, "text": {"field": "s"}}},
            {"data": {"values": [{"c": "KO D17", "y": 64.5, "s": "n.s."}]}, "mark": {"type": "text", "fontSize": 12, "baseline": "alphabetic"},
             "encoding": {"x": {"field": "c", "type": "nominal", "bandPosition": 1, "axis": null}, "y": {"field": "y", "type": "quantitative", "axis": null}, "text": {"field": "s"}}}
          ],
          "resolve": {"axis": {"x": "independent", "y": "independent"}}
        },
        {
          "width": 76, "height": 116,
          "title": {"text": "i", "offset": 2, "dx": -3},
          "layer": [
            {"data": {"name": "i_bar"}, "mark": {"type": "bar", "stroke": "#000", "strokeWidth": 1.3},
             "encoding": {
               "x": {"field": "c", "type": "nominal", "scale": {"domain": ["WT D17", "WT D27", "KO D17", "KO D27"], "paddingInner": 0.33, "paddingOuter": 0.3}, "axis": {"title": null, "labelAngle": 0, "values": ["WT D17", "KO D17"], "bandPosition": 1.25, "labelExpr": "substring(datum.label, 0, 2)"}},
               "y": {"field": "m", "type": "quantitative", "scale": {"domain": [0, 8]}, "axis": {"title": "Platform crossing (#)", "values": [0, 2, 4, 6, 8]}},
               "fill": {"condition": {"test": "datum.d === 'D27'", "value": "#a3a3a3"}, "value": "#ffffff"}
             }},
            {"data": {"name": "i_pts"}, "transform": [{"window": [{"op": "row_number", "as": "k"}], "groupby": ["c"]}],
             "mark": {"type": "point", "filled": true, "size": 8, "opacity": 1},
             "encoding": {
               "x": {"field": "c", "type": "nominal", "axis": null},
               "xOffset": {"field": "k", "type": "ordinal", "scale": {"paddingOuter": 0.2}},
               "y": {"field": "v", "type": "quantitative", "axis": null},
               "color": {"field": "d", "type": "nominal", "scale": {"domain": ["D17", "D27"], "range": ["#5a8fd8", "#c1121c"]}, "legend": {"title": null, "orient": "none", "legendX": 82, "legendY": 90, "symbolType": "circle", "symbolSize": 14, "labelFontSize": 11, "labelOffset": 3, "rowPadding": 2, "padding": 0}}
             }},
            {"data": {"name": "i_bar"}, "mark": {"type": "errorbar", "color": "#000", "thickness": 1.2, "ticks": {"size": 7, "thickness": 1.2}},
             "encoding": {"x": {"field": "c", "type": "nominal", "axis": null}, "y": {"field": "lo", "type": "quantitative", "axis": null}, "y2": {"field": "hi"}}},
            {"data": {"values": [{"a": "WT D17", "b": "WT D27", "y": 6.8}, {"a": "KO D17", "b": "KO D27", "y": 7.5}]}, "mark": {"type": "rule", "strokeWidth": 1.6, "color": "#000"},
             "encoding": {"x": {"field": "a", "type": "nominal", "axis": null}, "x2": {"field": "b"}, "y": {"field": "y", "type": "quantitative", "axis": null}}},
            {"data": {"values": [{"c": "WT D17", "y": 7.3, "s": "**"}]}, "mark": {"type": "text", "fontSize": 14, "dy": 8, "baseline": "alphabetic"},
             "encoding": {"x": {"field": "c", "type": "nominal", "bandPosition": 1.25, "axis": null}, "y": {"field": "y", "type": "quantitative", "axis": null}, "text": {"field": "s"}}},
            {"data": {"values": [{"c": "KO D17", "y": 7.64, "s": "n.s."}]}, "mark": {"type": "text", "fontSize": 12, "baseline": "alphabetic"},
             "encoding": {"x": {"field": "c", "type": "nominal", "bandPosition": 1.25, "axis": null}, "y": {"field": "y", "type": "quantitative", "axis": null}, "text": {"field": "s"}}}
          ],
          "resolve": {"axis": {"x": "independent", "y": "independent"}}
        },
        {
          "width": 85, "height": 116,
          "title": {"text": "j", "offset": 2, "dx": 0},
          "layer": [
            {"data": {"name": "j_bar"}, "mark": {"type": "bar", "stroke": "#000", "strokeWidth": 1.3},
             "encoding": {
               "x": {"field": "c", "type": "nominal", "scale": {"domain": ["WT D17", "WT D27", " ", "KO D17", "KO D27"], "paddingInner": 0.27, "paddingOuter": 0.5}, "axis": {"title": null, "labelAngle": 0, "values": ["WT D17", "KO D17"], "bandPosition": 1.185, "labelExpr": "substring(datum.label, 0, 2)"}},
               "y": {"field": "m", "type": "quantitative", "scale": {"domain": [0, 8]}, "axis": {"title": ["Platform crossing", "duration (s)"], "values": [0, 2, 4, 6, 8]}},
               "fill": {"condition": {"test": "datum.d === 'D27'", "value": "#a3a3a3"}, "value": "#ffffff"}
             }},
            {"data": {"name": "j_pts"}, "transform": [{"window": [{"op": "row_number", "as": "k"}], "groupby": ["c"]}],
             "mark": {"type": "point", "filled": true, "size": 8, "opacity": 1},
             "encoding": {
               "x": {"field": "c", "type": "nominal", "axis": null},
               "xOffset": {"field": "k", "type": "ordinal", "scale": {"paddingOuter": 0.2}},
               "y": {"field": "v", "type": "quantitative", "axis": null},
               "color": {"field": "d", "type": "nominal", "scale": {"domain": ["D17", "D27"], "range": ["#5a8fd8", "#c1121c"]}, "legend": {"title": null, "orient": "none", "legendX": 86, "legendY": 90, "symbolType": "circle", "symbolSize": 14, "labelFontSize": 11, "labelOffset": 3, "rowPadding": 2, "padding": 0}}
             }},
            {"data": {"name": "j_bar"}, "mark": {"type": "errorbar", "color": "#000", "thickness": 1.2, "ticks": {"size": 7, "thickness": 1.2}},
             "encoding": {"x": {"field": "c", "type": "nominal", "axis": null}, "y": {"field": "lo", "type": "quantitative", "axis": null}, "y2": {"field": "hi"}}},
            {"data": {"values": [{"a": "WT D17", "b": "WT D27", "y": 4.78}, {"a": "KO D17", "b": "KO D27", "y": 6.92}]}, "mark": {"type": "rule", "strokeWidth": 1.6, "color": "#000"},
             "encoding": {"x": {"field": "a", "type": "nominal", "axis": null}, "x2": {"field": "b"}, "y": {"field": "y", "type": "quantitative", "axis": null}}},
            {"data": {"values": [{"c": "WT D17", "y": 5.27, "s": "*"}]}, "mark": {"type": "text", "fontSize": 14, "dy": 8, "baseline": "alphabetic"},
             "encoding": {"x": {"field": "c", "type": "nominal", "bandPosition": 1.185, "axis": null}, "y": {"field": "y", "type": "quantitative", "axis": null}, "text": {"field": "s"}}},
            {"data": {"values": [{"c": "KO D17", "y": 7.1, "s": "n.s."}]}, "mark": {"type": "text", "fontSize": 12, "baseline": "alphabetic"},
             "encoding": {"x": {"field": "c", "type": "nominal", "bandPosition": 1.185, "axis": null}, "y": {"field": "y", "type": "quantitative", "axis": null}, "text": {"field": "s"}}}
          ],
          "resolve": {"axis": {"x": "independent", "y": "independent"}}
        }
      ]
    }
  ]
}
